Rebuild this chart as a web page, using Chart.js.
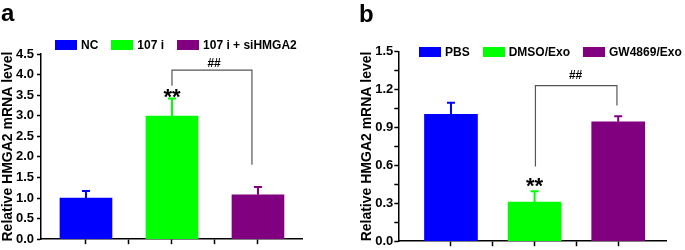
<!DOCTYPE html>
<html>
<head>
<meta charset="utf-8">
<script src="https://cdn.jsdelivr.net/npm/chart.js@4"></script>
<style>
body{margin:0;width:685px;height:250px;position:relative;overflow:hidden;background:#fff;font-family:'Liberation Sans',Arial,sans-serif;font-weight:bold}
canvas{position:absolute;top:0}
#chartA{left:0}
#chartB{left:340px}
.panel{position:absolute;font-size:24px;line-height:24px}
.legend{position:absolute;display:flex;align-items:center;font-size:12px;line-height:14px;white-space:nowrap}
.legend .item{display:flex;align-items:center;margin-right:13px}
.legend .box{display:inline-block;width:22px;height:10px;margin-right:4px}
</style>
</head>
<body>
<canvas id="chartA" width="340" height="250"></canvas>
<canvas id="chartB" width="345" height="250"></canvas>
<div class="panel" style="left:1px;top:1px">a</div>
<div class="panel" style="left:359px;top:2px">b</div>
<div class="legend" id="legA" style="left:55px;top:38px"></div>
<div class="legend" id="legB" style="left:419px;top:45px"></div>
<script>
// colours shared by both panels
const colors = ['#0000ff', '#00ff00', '#800080']

// panel a
const catsA = ['NC', '107 i', '107 i + siHMGA2']
const valsA = [1.0, 2.99, 1.08]
const errsA = [0.17, 0.43, 0.19]
const starA = [1, 3.57]          // "**" over 107 i
const hashA = [1.49, 4.27]       // "##"
const bracketA = [1, 1.93, 4.11, 3.73, 1.81]  // x1, x2, top, left bottom, right bottom

// panel b
const catsB = ['PBS', 'DMSO/Exo', 'GW4869/Exo']
const valsB = [1.005, 0.31, 0.945]
const errsB = [0.09, 0.085, 0.045]
const starB = [1, 0.474]
const hashB = [1.49, 1.314]
const bracketB = [1.01, 1.985, 1.232, 0.592, 1.075]

const FONT = "'Liberation Sans', Arial, sans-serif"

function makeLegend(id, cats){
  const el = document.getElementById(id)
  cats.forEach((c, i) => {
    const item = document.createElement('div')
    item.className = 'item'
    item.innerHTML = '<span class="box" style="background:' + colors[i] + '"></span>' + c
    el.appendChild(item)
  })
}
makeLegend('legA', catsA)
makeLegend('legB', catsB)

const marksPlugin = {
  id: 'marks',
  afterDatasetsDraw(chart, args, o){
    const ctx = chart.ctx
    const x = chart.scales.x, y = chart.scales.y
    ctx.save()
    // upper error bars
    o.vals.forEach((v, i) => {
      const px = x.getPixelForValue(i)
      const y0 = y.getPixelForValue(v)
      const y1 = y.getPixelForValue(v + o.errs[i])
      ctx.strokeStyle = colors[i]
      ctx.lineWidth = 2
      ctx.beginPath()
      ctx.moveTo(px, y0); ctx.lineTo(px, y1)
      ctx.moveTo(px - 4, y1); ctx.lineTo(px + 4, y1)
      ctx.stroke()
    })
    // comparison bracket
    const b = o.bracket
    ctx.strokeStyle = '#555'
    ctx.lineWidth = 1.2
    ctx.beginPath()
    ctx.moveTo(x.getPixelForValue(b[0]), y.getPixelForValue(b[3]))
    ctx.lineTo(x.getPixelForValue(b[0]), y.getPixelForValue(b[2]))
    ctx.lineTo(x.getPixelForValue(b[1]), y.getPixelForValue(b[2]))
    ctx.lineTo(x.getPixelForValue(b[1]), y.getPixelForValue(b[4]))
    ctx.stroke()
    // significance marks
    ctx.fillStyle = '#000'
    ctx.textAlign = 'center'
    ctx.textBaseline = 'alphabetic'
    ctx.font = 'bold 22px ' + FONT
    ctx.fillText('**', x.getPixelForValue(o.star[0]), y.getPixelForValue(o.star[1]) + 12)
    ctx.font = 'bold 12px ' + FONT
    ctx.fillText('##', x.getPixelForValue(o.hash[0]), y.getPixelForValue(o.hash[1]) + 4)
    ctx.restore()
  }
}

function build(id, o){
  const step = o.yStep
  return new Chart(document.getElementById(id), {
    type: 'bar',
    data: {
      datasets: [{
        data: o.vals.map((v, i) => ({x: i, y: v})),
        backgroundColor: colors,
        barThickness: o.barW
      }]
    },
    options: {
      responsive: false,
      animation: false,
      devicePixelRatio: 1,
      layout: {padding: o.pad},
      plugins: {
        legend: {display: false},
        tooltip: {enabled: false},
        marks: {vals: o.vals, errs: o.errs, star: o.star, hash: o.hash, bracket: o.bracket}
      },
      scales: {
        x: {
          type: 'linear',
          min: o.xMin, max: o.xMax,
          offset: false,
          afterBuildTicks: s => { s.ticks = [0, 0.5, 1, 1.5, 2].map(v => ({value: v})) },
          ticks: {display: false},
          grid: {offset: false, drawOnChartArea: false, tickLength: 5, tickColor: '#000', tickWidth: 1.5},
          border: {color: '#000', width: 1.5},
          afterFit: s => { s.height = 6 }
        },
        y: {
          min: 0, max: o.yMax,
          afterBuildTicks: s => {
            const t = []
            for (let v = 0; v <= o.yMax + 1e-9; v += step / 2) t.push({value: +v.toFixed(3)})
            s.ticks = t
          },
          ticks: {
            color: '#000',
            padding: o.tickPad,
            font: {family: FONT, size: 13, weight: 'bold'},
            callback: v => Math.abs(v / step - Math.round(v / step)) < 1e-6 ? v.toFixed(1) : ''
          },
          grid: {drawOnChartArea: false, tickLength: 4, tickColor: '#000', tickWidth: 1.5},
          border: {color: '#000', width: 1.5},
          title: {
            display: true,
            text: 'Relative HMGA2 mRNA level',
            color: '#000',
            padding: {top: 0, bottom: 0},
            font: {family: FONT, size: 14, weight: 'bold'}
          },
          afterFit: s => { s.width = o.yWidth }
        }
      }
    },
    plugins: [marksPlugin]
  })
}

build('chartA', {
  vals: valsA, errs: errsA, star: starA, hash: hashA, bracket: bracketA,
  yMax: 4.5, yStep: 0.5, xMin: -0.523, xMax: 2.512, barW: 52,
  pad: {left: 0, right: 38, top: 54, bottom: 0}, yWidth: 41, tickPad: 3
})

build('chartB', {
  vals: valsB, errs: errsB, star: starB, hash: hashB, bracket: bracketB,
  yMax: 1.5, yStep: 0.3, xMin: -0.63, xMax: 2.58, barW: 53,
  pad: {left: 19, right: 18.3, top: 51.7, bottom: 0.7}, yWidth: 39.3, tickPad: 1
})
</script>
</body>
</html>
